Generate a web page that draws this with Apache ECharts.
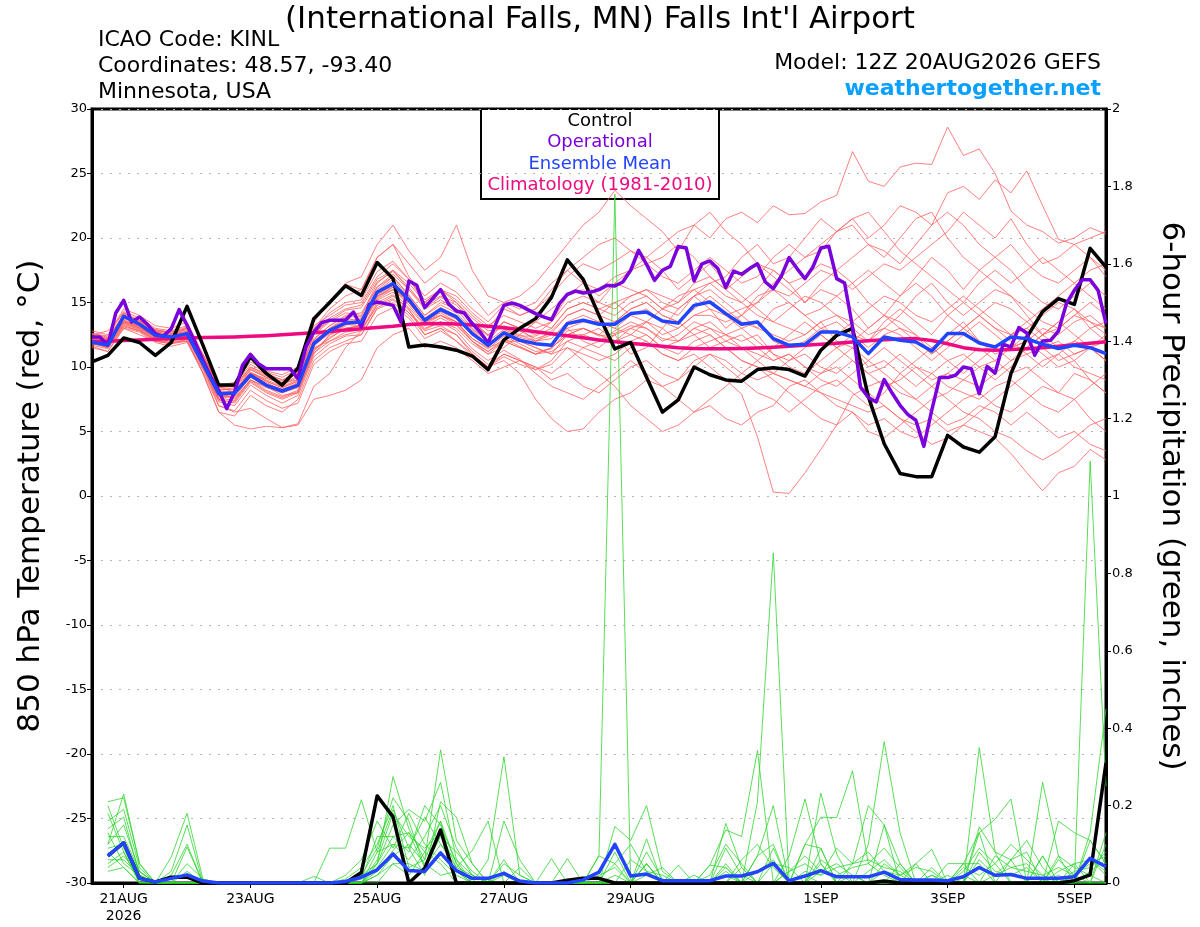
<!DOCTYPE html>
<html>
<head>
<meta charset="utf-8">
<title>KINL GEFS 850 hPa temperature and 6-hour precipitation</title>
<script src="https://cdn.jsdelivr.net/npm/echarts@6/dist/echarts.min.js"></script>
<style>
html, body { margin: 0; padding: 0; background: #ffffff; }
#main { width: 1200px; height: 927px; }
</style>
</head>
<body>
<div id="main"></div>
<script type="text/javascript">
// forecast hours from 12Z 20AUG2026; members are 6-hourly, the operational run 3-hourly
var tickHours = [12, 60, 108, 156, 204, 276, 324, 372];
var tickLabels = ['21AUG\n2026', '23AUG', '25AUG', '27AUG', '29AUG', '1SEP', '3SEP', '5SEP'];

// 850 hPa temperature, deg C
var tempControl = [10.4, 10.9, 12.25, 11.9, 10.9,  11.9, 14.7, 11.7, 8.6, 8.6,  10.8, 9.5, 8.6, 9.9, 13.75,  15.0, 16.3, 15.55, 18.1, 16.85,  11.55, 11.7, 11.55, 11.3, 10.85,  9.8, 12.1, 13.0, 13.75, 15.4,  18.3, 16.8, 14.0, 11.4, 11.9,  9.2, 6.5, 7.45, 10.0, 9.4,  9.0, 8.9, 9.8, 9.95, 9.8,  9.3, 11.3, 12.45, 13.0, 7.7,  4.05, 1.75, 1.5, 1.5, 4.7,  3.8, 3.4, 4.6, 9.5, 12.3,  14.3, 15.3, 14.85, 19.2, 17.75];

var tempOper = [12.33, 12.33, 11.68, 14.19, 15.17, 13.49, 13.88, 13.31, 12.59, 12.38,
  12.97, 14.45, 13.23, 11.94, 10.52, 9.22, 8.19, 6.77, 8.06, 10.13,
  10.98, 10.26, 9.87, 9.87, 9.87, 9.87, 9.1, 11.55, 12.71, 13.44,
  13.62, 13.62, 13.62, 14.26, 13.1, 14.86, 15.04, 14.91, 14.78, 13.49,
  16.67, 16.33, 14.6, 15.3, 16.0, 14.91, 14.34, 14.19, 13.36, 12.71,
  11.86, 13.36, 14.78, 14.96, 14.78, 14.45, 14.14, 13.88, 13.67, 14.91,
  15.63, 15.89, 15.74, 15.81, 16.0, 16.33, 16.28, 16.59, 17.5, 19.05,
  17.96, 16.72, 17.5, 17.8, 19.33, 19.25, 16.67, 18.0, 18.22, 17.63,
  16.16, 17.44, 17.19, 17.63, 18.0, 16.59, 16.08, 17.03, 18.48, 17.63,
  16.85, 17.75, 19.22, 19.36, 16.85, 16.51, 13.1, 8.45, 7.63, 7.29,
  9.02, 7.98, 7.03, 6.31, 5.87, 3.85, 6.64, 9.18, 9.18, 9.36,
  10.0, 9.87, 7.93, 10.05, 9.53, 11.76, 11.55, 13.05, 12.64, 10.91,
  12.02, 12.07, 12.79, 14.91, 15.94, 16.77, 16.77, 15.94, 13.36];

var tempMean = [11.94, 11.68, 13.93, 13.31, 12.46,  12.33, 12.59, 10.26, 7.93, 7.98,  9.36, 8.58, 8.14, 8.58, 11.81,  12.84, 13.41, 13.49, 15.8, 16.46,  15.22, 13.62, 14.47, 13.88, 12.59,  11.68, 12.64, 12.07, 11.81, 11.68,  13.36, 13.62, 13.31, 13.31, 14.14,  14.27, 13.57, 13.4, 14.78, 15.04,  14.14, 13.31, 13.49, 12.2, 11.68,  11.76, 12.71, 12.71, 12.33, 11.04,  12.33, 12.07, 11.94, 11.24, 12.59,  12.59, 11.86, 11.55, 12.33, 12.2,  11.76, 11.43, 11.68, 11.5, 11.04];

var tempClim = [11.95, 12.0, 12.05, 12.1, 12.15,  12.2, 12.25, 12.28, 12.3, 12.33,  12.38, 12.43, 12.5, 12.58, 12.66,  12.76, 12.86, 12.96, 13.06, 13.16,  13.3, 13.36, 13.38, 13.34, 13.26,  13.16, 13.04, 12.9, 12.74, 12.58,  12.42, 12.26, 12.1, 11.96, 11.84,  11.72, 11.6, 11.5, 11.44, 11.42,  11.42, 11.44, 11.48, 11.54, 11.6,  11.68, 11.76, 11.84, 11.94, 12.04,  12.12, 12.18, 12.2, 12.05, 11.8,  11.5, 11.33, 11.3, 11.35, 11.42,  11.5, 11.6, 11.72, 11.84, 11.95];

var tempMembers = [
  [12.5, 12.8, 14.2, 13.6, 12.8,  12.4, 13.0, 11.0, 8.5, 8.0,  9.8, 9.2, 8.9, 9.5, 13.5,  15.0, 16.4, 16.0, 18.5, 19.5,  17.0, 15.5, 16.5, 15.8, 14.5,  13.5, 14.8, 14.0, 14.5, 15.6,  17.0, 18.0, 17.5, 18.2, 19.0,  18.5, 19.5, 20.5, 21.0, 20.0,  21.5, 22.0, 21.2, 22.5, 21.8,  21.9, 22.8, 23.3, 26.7, 24.4,  24.0, 25.5, 25.8, 25.7, 28.6,  26.4, 26.9, 25.0, 22.1, 21.0,  20.5, 19.6, 20.0, 20.8, 20.3],
  [11.5, 11.2, 13.0, 12.5, 12.0,  11.8, 12.0, 9.5, 6.5, 6.2,  7.8, 7.0, 6.5, 7.5, 10.5,  11.5, 12.0, 12.5, 14.5, 15.0,  14.0, 12.5, 13.0, 12.0, 11.0,  10.0, 11.0, 10.5, 9.8, 10.5,  12.0, 11.5, 11.0, 10.5, 11.5,  12.0, 11.0, 10.5, 11.0, 10.0,  9.0, 7.9, 4.6, 0.3, 0.2,  1.8, 3.6, 5.5, 7.8, 8.5,  9.0, 8.0, 7.5, 8.5, 9.5,  9.0, 8.5, 9.5, 10.5, 11.0,  11.5, 12.0, 11.0, 11.5, 12.0],
  [12.2, 12.0, 13.6, 13.0, 12.2,  12.0, 12.4, 10.0, 7.5, 7.2,  8.8, 8.0, 7.5, 8.0, 11.0,  12.5, 13.0, 13.2, 15.5, 16.0,  15.0, 13.5, 14.0, 13.5, 12.0,  11.0, 12.0, 11.5, 11.0, 11.5,  12.5, 12.5, 12.0, 12.8, 13.5,  13.0, 12.0, 12.5, 13.5, 13.0,  12.0, 11.5, 10.5, 9.5, 9.0,  8.5, 8.0, 7.5, 7.0, 6.5,  7.0, 6.0, 5.5, 6.0, 5.0,  5.5, 5.0, 4.5, 3.3, 1.8,  0.4, 1.8, 2.3, 3.6, 2.8],
  [12.0, 11.5, 13.2, 12.8, 12.0,  11.8, 12.2, 10.5, 8.0, 7.5,  9.0, 8.5, 7.8, 8.0, 11.5,  12.0, 12.5, 12.8, 14.8, 15.5,  14.5, 12.5, 13.0, 12.5, 11.0,  10.0, 10.5, 9.5, 7.5, 6.0,  5.0, 5.2, 6.5, 7.5, 8.0,  9.0, 8.5, 7.5, 6.5, 7.0,  6.0, 5.5, 6.5, 7.0, 8.5,  9.0, 8.0, 7.0, 6.5, 5.5,  6.0, 5.0, 4.5, 5.5, 6.5,  7.5, 8.0, 7.0, 6.5, 7.5,  8.5, 8.0, 9.5, 9.0, 8.0],
  [12.8, 12.5, 14.5, 14.0, 13.2,  13.0, 13.5, 11.0, 8.5, 8.5,  10.0, 9.5, 9.0, 9.5, 13.0,  14.5, 15.5, 16.0, 18.5, 19.5,  18.0, 16.5, 17.5, 17.0, 15.5,  14.0, 15.0, 15.5, 16.5, 18.0,  19.5, 21.0, 22.0, 23.7, 22.5,  21.5, 20.5, 19.0, 21.0, 22.0,  20.5, 19.5, 18.0, 17.5, 16.5,  15.0, 16.0, 15.5, 14.5, 13.0,  14.0, 13.5, 12.5, 11.5, 12.5,  13.5, 12.0, 11.5, 10.5, 11.5,  12.5, 13.5, 14.5, 13.0, 12.0],
  [12.4, 12.2, 14.0, 13.5, 12.7,  12.5, 12.8, 10.8, 8.3, 8.2,  9.6, 9.0, 8.5, 9.0, 12.2,  13.2, 14.0, 14.2, 16.2, 17.2,  16.0, 14.5, 15.2, 14.5, 13.5,  12.5, 13.5, 13.0, 13.5, 14.5,  15.5, 16.5, 16.0, 17.0, 17.5,  18.0, 17.0, 16.5, 17.5, 18.5,  17.5, 16.5, 17.0, 18.5, 19.5,  18.5, 19.0, 20.5, 21.5, 20.0,  21.0, 22.5, 22.0, 21.0, 23.5,  24.0, 23.0, 24.5, 23.5, 25.2,  22.5, 19.9, 19.5, 20.0, 20.5],
  [12.0, 11.8, 14.2, 13.4, 12.6,  12.2, 12.5, 10.2, 7.5, 7.8,  9.5, 8.8, 8.2, 8.8, 12.0,  13.0, 13.8, 13.5, 16.0, 17.0,  15.5, 14.0, 15.0, 14.5, 13.0,  12.0, 13.5, 13.0, 12.5, 13.5,  15.5, 16.0, 15.0, 16.5, 17.5,  18.5, 17.5, 16.0, 17.0, 18.0,  16.5, 15.5, 14.5, 13.5, 13.0,  12.5, 13.5, 12.0, 11.5, 10.0,  10.5, 9.5, 8.5, 9.5, 10.5,  11.0, 10.0, 9.0, 10.0, 11.5,  12.5, 13.0, 14.0, 13.5, 12.5],
  [11.8, 11.6, 13.5, 13.2, 12.4,  12.5, 12.4, 10.0, 7.8, 7.6,  9.0, 8.4, 8.0, 8.4, 11.2,  12.5, 13.2, 13.8, 15.5, 16.2,  15.0, 13.5, 14.0, 13.5, 12.2,  11.5, 12.0, 12.0, 11.5, 11.0,  12.5, 13.0, 12.5, 12.0, 13.0,  13.5, 12.5, 13.0, 14.0, 14.5,  14.0, 13.0, 13.5, 12.0, 11.5,  12.0, 13.0, 13.5, 12.5, 11.5,  12.5, 13.0, 12.5, 11.0, 12.0,  13.0, 12.0, 11.0, 11.5, 12.5,  11.5, 10.5, 11.0, 11.5, 10.5],
  [12.3, 12.0, 13.8, 13.4, 12.8,  12.6, 12.9, 10.6, 8.2, 8.3,  9.8, 9.2, 8.6, 9.2, 12.5,  13.5, 14.2, 14.0, 16.5, 17.5,  16.0, 14.8, 15.5, 15.0, 13.8,  12.8, 13.0, 12.5, 12.0, 12.8,  14.0, 14.5, 14.0, 15.0, 15.5,  16.0, 15.0, 14.5, 15.5, 16.5,  17.0, 18.5, 19.5, 18.0, 18.5,  20.0, 21.5, 20.5, 21.0, 19.5,  18.5, 20.0, 21.5, 22.0, 20.0,  18.5, 17.5, 18.5, 19.5, 18.0,  17.0, 16.5, 17.5, 18.5, 17.0],
  [11.6, 11.2, 13.0, 12.7, 11.9,  11.6, 11.9, 9.6, 7.0, 6.6,  8.2, 7.4, 6.8, 7.2, 10.2,  11.2, 11.8, 12.0, 14.0, 14.6,  13.8, 12.2, 12.8, 12.0, 10.8,  10.0, 10.8, 10.2, 9.8, 10.2,  11.5, 11.0, 10.5, 11.0, 12.0,  12.5, 11.5, 11.0, 12.0, 12.5,  11.5, 10.5, 10.0, 9.5, 9.0,  8.5, 9.5, 10.0, 9.0, 8.0,  7.0, 6.0, 5.0, 4.0, 4.5,  5.5, 6.5, 7.5, 8.5, 9.5,  10.5, 11.0, 10.0, 9.5, 9.0],
  [12.6, 12.4, 14.3, 13.8, 13.0,  12.8, 13.2, 10.8, 8.4, 8.6,  10.2, 9.6, 9.2, 9.8, 13.5,  15.0, 16.5, 17.0, 19.5, 21.0,  19.0, 17.5, 18.5, 21.0, 17.5,  15.5, 15.0, 14.5, 15.0, 16.5,  17.5, 16.5, 15.5, 16.5, 16.0,  15.5, 14.5, 15.0, 16.5, 17.0,  16.0, 15.0, 14.0, 13.5, 14.5,  15.5, 15.0, 14.0, 13.5, 12.5,  13.0, 14.0, 15.5, 16.5, 15.0,  14.0, 15.0, 16.0, 15.5, 14.5,  13.5, 13.0, 14.0, 15.0, 14.0],
  [11.9, 11.5, 13.3, 12.9, 12.0,  11.9, 12.1, 9.5, 6.5, 5.5,  5.2, 5.4, 5.3, 5.5, 7.5,  7.8, 8.2, 9.0, 11.5, 12.5,  13.0, 11.5, 12.0, 11.5, 10.5,  9.5, 10.0, 10.5, 10.0, 9.5,  10.5, 11.5, 12.0, 12.5, 13.0,  12.5, 11.5, 12.0, 13.0, 13.5,  12.5, 12.0, 12.5, 11.0, 10.0,  9.5, 10.5, 11.5, 12.5, 12.0,  13.0, 12.5, 11.5, 10.5, 11.5,  12.5, 13.5, 12.5, 11.5, 12.0,  11.0, 10.0, 10.5, 11.5, 12.5],
  [12.1, 11.9, 13.7, 13.1, 12.3,  12.2, 12.3, 10.0, 7.0, 6.5,  6.8, 6.0, 5.3, 5.6, 8.5,  9.5, 11.5, 12.8, 14.8, 15.3,  14.2, 13.0, 13.5, 13.0, 11.8,  11.0, 11.5, 12.5, 13.5, 13.0,  14.5, 15.0, 14.5, 14.0, 15.0,  15.5, 14.5, 14.0, 15.5, 16.0,  15.0, 14.0, 13.0, 14.5, 15.0,  14.0, 13.0, 12.5, 13.5, 14.5,  15.5, 15.0, 14.0, 13.5, 14.5,  15.5, 14.5, 13.5, 12.5, 13.0,  12.0, 11.5, 12.0, 13.0, 13.5],
  [12.2, 11.9, 13.6, 13.2, 12.5,  12.3, 12.6, 10.4, 8.0, 8.1,  9.6, 8.9, 8.4, 8.9, 11.7,  12.6, 13.3, 13.2, 15.4, 16.2,  15.0, 13.4, 14.2, 13.5, 12.2,  11.4, 12.4, 11.8, 11.2, 11.4,  12.8, 13.0, 12.4, 12.6, 13.2,  13.0, 12.2, 12.0, 13.0, 12.5,  11.5, 10.5, 10.0, 9.0, 8.0,  7.0, 6.0, 5.5, 6.5, 5.0,  4.5, 5.5, 6.5, 7.5, 8.0,  9.0, 10.0, 10.5, 11.5, 12.0,  13.0, 12.5, 13.5, 14.0, 13.0],
  [12.5, 12.1, 14.0, 13.5, 12.9,  12.6, 13.0, 10.9, 8.6, 8.8,  10.4, 9.7, 9.4, 10.0, 13.2,  14.0, 14.8, 15.0, 17.0, 18.0,  16.8, 15.2, 16.0, 15.5, 14.2,  13.2, 14.0, 13.5, 13.0, 13.5,  15.0, 15.5, 15.0, 14.5, 15.5,  16.0, 15.5, 15.0, 16.0, 16.5,  15.5, 15.0, 16.0, 17.5, 16.5,  17.0, 18.0, 17.5, 18.5, 19.5,  19.0, 18.0, 19.5, 21.0, 22.0,  21.0, 19.5, 18.5, 17.5, 16.0,  15.0, 14.5, 15.5, 16.5, 15.5],
  [11.7, 11.4, 13.1, 12.8, 12.1,  11.9, 12.0, 9.8, 7.3, 7.0,  8.6, 7.8, 7.2, 7.8, 10.8,  11.8, 12.4, 12.5, 14.6, 15.2,  14.2, 12.8, 13.2, 12.5, 11.2,  10.2, 11.0, 10.5, 10.0, 9.0,  9.5, 8.5, 8.0, 9.0, 10.0,  10.5, 9.5, 9.0, 10.0, 11.0,  10.5, 9.5, 9.0, 9.5, 10.5,  11.0, 10.0, 9.5, 10.5, 9.5,  8.5, 9.0, 10.0, 9.5, 8.5,  8.0, 7.5, 8.5, 9.0, 8.0,  7.0, 6.5, 7.5, 6.0, 5.0],
  [12.3, 12.2, 14.1, 13.6, 12.9,  12.7, 13.1, 10.7, 8.1, 8.0,  9.5, 9.1, 8.8, 9.0, 12.5,  13.8, 14.5, 14.8, 16.8, 17.5,  16.5, 15.0, 16.0, 15.0, 13.5,  12.5, 13.5, 13.0, 12.0, 12.5,  13.0, 12.0, 11.5, 12.5, 11.0,  11.5, 13.0, 14.5, 15.5, 14.5,  13.0, 14.0, 15.5, 16.0, 15.0,  14.0, 14.5, 15.5, 16.5, 17.5,  16.5, 15.5, 17.0, 18.5, 17.5,  16.0, 17.5, 16.5, 15.5, 14.0,  12.5, 13.5, 12.5, 11.5, 10.5],
  [12.0, 11.7, 13.4, 13.0, 12.3,  12.1, 12.3, 10.2, 7.8, 7.7,  9.2, 8.5, 8.0, 8.5, 11.4,  12.2, 13.0, 13.2, 15.2, 15.8,  14.6, 13.2, 13.8, 13.2, 12.0,  11.2, 12.0, 11.5, 11.0, 11.2,  12.0, 12.5, 13.0, 12.0, 12.5,  13.5, 13.0, 12.0, 12.5, 13.0,  12.5, 11.5, 11.0, 10.5, 11.0,  10.0, 9.5, 10.5, 11.5, 10.5,  9.5, 8.5, 7.5, 6.5, 5.5,  6.0, 7.0, 6.5, 5.5, 6.5,  5.5, 4.5, 5.0, 4.0, 3.5],
  [12.4, 12.3, 13.9, 13.3, 12.6,  12.4, 12.7, 10.5, 8.2, 8.4,  9.9, 9.3, 8.7, 9.3, 12.6,  13.6, 14.4, 14.6, 16.6, 17.4,  16.2, 14.6, 15.4, 14.8, 13.4,  12.4, 13.2, 12.8, 12.2, 12.6,  14.0, 14.5, 14.0, 13.5, 14.5,  15.0, 14.0, 13.5, 14.5, 15.5,  14.5, 13.5, 13.0, 12.5, 12.0,  12.5, 13.5, 14.0, 13.0, 12.0,  13.5, 14.5, 13.5, 12.5, 14.0,  15.0, 16.5, 17.5, 16.5, 17.5,  18.5, 17.5, 16.5, 17.5, 18.0],
  [12.1, 11.8, 13.5, 13.1, 12.4,  12.3, 12.5, 10.1, 7.7, 7.9,  9.5, 8.7, 8.3, 8.7, 11.9,  13.0, 13.6, 13.7, 15.9, 16.8,  15.4, 13.8, 14.6, 14.0, 12.8,  11.8, 12.8, 12.3, 12.0, 12.2,  13.5, 14.0, 13.5, 13.0, 14.0,  14.5, 13.5, 13.0, 14.0, 14.0,  13.5, 14.0, 15.0, 16.5, 17.5,  18.5, 19.5, 20.5, 21.5, 22.0,  20.5, 19.0, 18.0, 17.0, 16.0,  15.0, 14.0, 13.0, 12.5, 13.0,  14.0, 15.0, 14.5, 13.5, 13.0],
  [12.0, 11.6, 13.4, 12.9, 12.2,  12.0, 12.2, 9.9, 7.4, 7.3,  8.9, 8.1, 7.6, 8.1, 11.1,  12.0, 12.7, 12.9, 15.0, 15.6,  14.4, 12.9, 13.5, 12.8, 11.4,  10.5, 11.3, 10.6, 9.5, 8.5,  8.0, 7.5, 8.5, 9.5, 10.5,  9.5, 8.5, 9.0, 10.5, 11.0,  10.0, 9.0, 8.0, 7.5, 6.5,  7.5, 8.5, 9.0, 8.0, 7.0,  8.0, 9.5, 10.5, 11.5, 10.5,  9.5, 10.5, 11.5, 12.5, 13.5,  12.5, 11.5, 10.5, 9.0, 8.0],
  [12.6, 12.3, 14.0, 13.6, 12.8,  12.7, 13.0, 10.9, 8.4, 8.5,  10.0, 9.4, 9.0, 9.6, 12.9,  14.2, 15.0, 15.2, 17.4, 18.2,  16.8, 15.0, 16.0, 15.2, 14.0,  13.0, 14.5, 14.0, 14.5, 16.0,  17.5, 18.5, 19.5, 20.0, 19.0,  18.0, 18.5, 19.5, 18.5, 17.0,  16.0, 17.0, 18.0, 17.0, 16.0,  15.0, 16.5, 17.5, 16.5, 15.0,  14.0, 15.5, 16.5, 15.5, 14.0,  13.0, 14.0, 15.0, 14.5, 13.5,  14.5, 15.5, 16.5, 15.5, 14.5],
  [12.1, 11.8, 13.8, 13.2, 12.4,  12.2, 12.5, 10.2, 7.9, 8.0,  9.4, 8.6, 8.1, 8.6, 11.8,  12.8, 13.4, 13.5, 15.8, 16.5,  15.2, 13.6, 14.5, 13.9, 12.6,  11.7, 12.6, 12.1, 11.8, 11.7,  13.0, 13.5, 13.5, 13.0, 12.5,  12.0, 11.0, 10.5, 11.5, 12.0,  12.5, 13.0, 12.0, 11.0, 10.5,  11.5, 12.5, 11.5, 10.5, 9.5,  10.0, 11.0, 10.0, 9.0, 9.5,  10.5, 11.5, 10.5, 9.5, 10.0,  9.0, 8.0, 7.5, 8.5, 9.5],
  [11.8, 11.5, 13.2, 12.8, 12.2,  12.1, 12.4, 10.1, 7.6, 7.4,  9.0, 8.2, 7.7, 8.2, 11.3,  12.3, 13.0, 13.2, 15.3, 16.0,  14.8, 13.3, 14.0, 13.3, 12.0,  11.2, 12.2, 11.6, 11.0, 11.5,  12.5, 13.0, 12.5, 13.5, 14.5,  15.0, 14.0, 13.5, 12.5, 11.5,  12.0, 12.5, 11.5, 10.5, 11.0,  10.0, 9.0, 8.5, 9.5, 10.5,  11.5, 10.5, 9.5, 8.5, 7.5,  6.5, 6.0, 5.0, 4.5, 3.5,  2.8, 3.5, 4.5, 5.5, 6.0],
  [12.3, 12.0, 13.9, 13.4, 12.6,  12.4, 12.8, 10.5, 8.0, 8.1,  9.5, 8.9, 8.4, 8.9, 12.1,  13.2, 13.9, 13.9, 16.2, 17.0,  15.6, 14.0, 14.8, 14.2, 12.9,  12.0, 12.9, 12.4, 12.4, 13.0,  14.5, 15.0, 14.5, 15.0, 14.0,  13.5, 14.5, 15.5, 16.0, 15.0,  14.0, 14.5, 15.0, 16.0, 15.5,  16.5, 17.5, 17.0, 16.0, 17.0,  18.0, 17.5, 18.5, 19.5, 20.5,  22.0, 21.0, 20.0, 21.5, 19.5,  18.0, 18.5, 19.5, 18.5, 17.5],
  [12.2, 11.9, 13.5, 13.0, 12.4,  12.2, 12.4, 10.3, 7.9, 7.9,  9.3, 8.6, 8.2, 8.6, 11.6,  12.7, 13.3, 13.4, 15.6, 16.3,  15.1, 13.5, 14.3, 13.7, 12.5,  11.6, 12.5, 12.0, 11.5, 11.0,  11.5, 10.5, 9.5, 8.5, 7.0,  6.0, 5.0, 5.5, 6.5, 7.5,  8.5, 9.5, 10.5, 11.5, 12.5,  13.5, 12.5, 11.5, 12.0, 13.0,  14.0, 13.0, 12.0, 11.0, 12.0,  13.0, 14.0, 13.0, 12.0, 11.0,  10.0, 11.0, 12.0, 11.5, 10.5]
];

// 6-hour precipitation, inches (no value at hour 0)
var precipControl = [null, 0.07, 0.104, 0.012, 0.003,  0.015, 0.015, 0, 0, 0,  0, 0, 0, 0, 0,  0, 0, 0.027, 0.225, 0.171,  0, 0.038, 0.137, 0, 0,  0, 0, 0, 0, 0,  0.007, 0.012, 0.012, 0, 0,  0, 0, 0, 0, 0,  0, 0, 0, 0, 0,  0, 0, 0, 0, 0,  0.005, 0, 0, 0, 0,  0, 0, 0, 0, 0,  0, 0, 0.006, 0.021, 0.31];

var precipMean = [null, 0.07, 0.104, 0.012, 0.003,  0.012, 0.021, 0.005, 0, 0,  0, 0, 0, 0, 0,  0, 0.004, 0.015, 0.034, 0.075,  0.032, 0.03, 0.078, 0.032, 0.012,  0.012, 0.025, 0.005, 0, 0,  0, 0.008, 0.028, 0.1, 0.018,  0.023, 0.006, 0.006, 0.006, 0.006,  0.018, 0.018, 0.029, 0.051, 0.006,  0.018, 0.032, 0.016, 0.016, 0.016,  0.028, 0.009, 0.008, 0.008, 0.006,  0.016, 0.04, 0.02, 0.022, 0.012,  0.012, 0.012, 0.016, 0.064, 0.042];

var precipMembers = [
  [null, 0.21, 0.22, 0.05, 0,  0, 0.03, 0, 0, 0,  0, 0, 0, 0, 0,  0, 0, 0, 0.05, 0.275,  0.14, 0.06, 0.344, 0.11, 0.05,  0, 0.02, 0, 0, 0,  0, 0, 0.072, 1.78, 0,  0.05, 0, 0, 0, 0,  0.04, 0, 0.07, 0.2, 0,  0.1, 0.09, 0, 0, 0,  0.15, 0.05, 0, 0, 0,  0, 0.35, 0.08, 0, 0,  0.07, 0, 0, 0.11, 0.05],
  [null, 0.16, 0.19, 0.04, 0,  0.067, 0.18, 0.01, 0, 0,  0, 0, 0, 0, 0,  0.09, 0.09, 0.215, 0.08, 0.19,  0.09, 0.02, 0.21, 0.17, 0.05,  0, 0, 0, 0, 0.063,  0, 0, 0, 0.146, 0.11,  0.2, 0.03, 0, 0, 0,  0.154, 0.04, 0, 0, 0.07,  0.217, 0.05, 0, 0, 0,  0, 0, 0.05, 0.087, 0,  0, 0.145, 0.08, 0.06, 0,  0.26, 0.07, 0, 0, 0],
  [null, 0.14, 0.17, 0.02, 0,  0.03, 0.15, 0, 0, 0,  0, 0, 0, 0, 0,  0, 0, 0.02, 0.05, 0.15,  0.19, 0.16, 0.26, 0.06, 0,  0.06, 0.326, 0.02, 0, 0,  0, 0, 0, 0.08, 0,  0.114, 0, 0.046, 0, 0.046,  0.137, 0.12, 0.342, 0, 0,  0, 0.232, 0.075, 0, 0.1,  0.365, 0.13, 0, 0, 0,  0.05, 0.13, 0.165, 0.217, 0,  0, 0.16, 0.13, 0.11, 0.05],
  [null, 0.12, 0.12, 0.03, 0,  0, 0.093, 0, 0, 0,  0, 0, 0, 0, 0,  0, 0, 0.01, 0.12, 0.12,  0.13, 0.08, 0.16, 0.05, 0,  0, 0.16, 0.06, 0, 0,  0, 0.01, 0.01, 0.05, 0,  0.05, 0, 0, 0.01, 0,  0, 0, 0.21, 0.853, 0,  0.1, 0.17, 0.169, 0.29, 0.05,  0.02, 0, 0, 0, 0.02,  0, 0, 0, 0.06, 0.08,  0, 0.07, 0.04, 0.02, 0],
  [null, 0.09, 0.1, 0.03, 0,  0, 0, 0, 0, 0,  0, 0, 0, 0, 0,  0, 0, 0, 0.08, 0.1,  0.09, 0.17, 0.1, 0.04, 0.084,  0.16, 0, 0, 0, 0,  0, 0, 0, 0, 0,  0, 0, 0, 0, 0.046,  0.04, 0, 0, 0.09, 0,  0, 0.09, 0, 0.05, 0.2,  0.15, 0, 0, 0, 0,  0, 0.13, 0, 0, 0,  0.07, 0, 0, 1.09, 0.25],
  [null, 0.05, 0.08, 0, 0,  0, 0, 0, 0, 0,  0, 0, 0, 0, 0,  0, 0.01, 0.04, 0.1, 0.2,  0.04, 0.06, 0.16, 0, 0,  0, 0.06, 0, 0, 0,  0, 0, 0, 0, 0,  0.05, 0, 0, 0, 0,  0, 0, 0.07, 0.1, 0,  0, 0, 0, 0, 0,  0, 0.05, 0, 0, 0,  0, 0, 0, 0, 0,  0, 0, 0, 0.13, 0.45],
  [null, 0.03, 0.04, 0, 0,  0, 0, 0, 0, 0,  0, 0, 0, 0, 0.017,  0, 0, 0, 0.03, 0.084,  0.13, 0.04, 0.1, 0.06, 0.02,  0, 0, 0, 0, 0,  0, 0, 0, 0, 0,  0, 0, 0, 0, 0,  0, 0.04, 0, 0, 0,  0, 0, 0, 0, 0,  0, 0, 0, 0.02, 0,  0, 0, 0, 0, 0,  0, 0, 0, 0, 0],
  [null, 0.06, 0.06, 0.02, 0,  0, 0, 0, 0, 0,  0, 0, 0, 0, 0,  0, 0, 0, 0.02, 0.05,  0.02, 0.08, 0.05, 0, 0,  0, 0, 0, 0, 0,  0.063, 0, 0, 0, 0,  0, 0, 0, 0, 0,  0, 0, 0, 0, 0,  0, 0, 0, 0, 0,  0, 0, 0, 0, 0,  0.05, 0.05, 0, 0, 0,  0, 0, 0, 0, 0.1],
  [null, 0.08, 0.04, 0, 0,  0, 0, 0, 0, 0,  0, 0, 0, 0, 0,  0, 0, 0, 0, 0.05,  0.05, 0.03, 0.08, 0.03, 0,  0, 0, 0, 0, 0,  0, 0, 0, 0, 0,  0, 0, 0, 0, 0,  0, 0, 0, 0, 0,  0, 0.06, 0.03, 0, 0,  0, 0, 0, 0, 0.05,  0.05, 0, 0, 0, 0,  0, 0, 0.05, 0, 0],
  [null, 0.1, 0.23, 0.05, 0,  0, 0, 0, 0, 0,  0, 0, 0, 0, 0,  0, 0, 0, 0.06, 0.18,  0.12, 0.09, 0.13, 0.04, 0.02,  0, 0, 0, 0, 0,  0, 0, 0.07, 0.05, 0.1,  0.03, 0.02, 0, 0, 0,  0.03, 0, 0, 0.05, 0.04,  0, 0.05, 0, 0.02, 0,  0.05, 0.02, 0.04, 0.03, 0,  0.02, 0, 0.07, 0.04, 0.05,  0, 0.06, 0.02, 0, 0.13],
  [null, 0.18, 0.08, 0, 0,  0, 0, 0, 0, 0,  0, 0, 0, 0, 0,  0, 0, 0, 0.04, 0.1,  0.06, 0.12, 0.2, 0.09, 0.02,  0, 0, 0, 0, 0,  0, 0, 0, 0, 0,  0.08, 0.01, 0, 0, 0.02,  0.1, 0.05, 0, 0, 0,  0.03, 0.02, 0.04, 0.05, 0.06,  0.04, 0.03, 0, 0, 0,  0, 0.08, 0.03, 0.02, 0.04,  0, 0.03, 0.05, 0.06, 0.02],
  [null, 0.04, 0.07, 0.02, 0,  0, 0, 0, 0, 0,  0, 0, 0, 0, 0,  0, 0, 0, 0.02, 0.07,  0.1, 0.05, 0.02, 0.03, 0,  0, 0, 0, 0, 0,  0, 0, 0, 0, 0,  0.02, 0.04, 0, 0, 0,  0.05, 0, 0, 0, 0.03,  0.05, 0.02, 0.09, 0.05, 0.08,  0.03, 0, 0, 0.02, 0,  0.04, 0.02, 0.05, 0.1, 0.06,  0.02, 0, 0.03, 0.04, 0.08],
  [null, 0.13, 0.05, 0.02, 0,  0.02, 0.1, 0, 0, 0,  0, 0, 0, 0, 0,  0, 0.02, 0.06, 0.16, 0.09,  0.18, 0.1, 0.06, 0.02, 0,  0, 0, 0.04, 0, 0,  0, 0, 0, 0, 0.06,  0.03, 0, 0, 0, 0,  0.09, 0.02, 0, 0, 0.03,  0.07, 0.03, 0.02, 0.04, 0.05,  0.09, 0.04, 0, 0, 0,  0, 0.06, 0.02, 0.04, 0.03,  0.02, 0.04, 0.02, 0.06, 0.03],
  [null, 0.1, 0.15, 0.03, 0,  0, 0.05, 0.01, 0, 0,  0, 0, 0, 0, 0,  0, 0, 0.02, 0.09, 0.22,  0.16, 0.04, 0.12, 0.08, 0.03,  0, 0.03, 0, 0, 0,  0, 0, 0.02, 0.04, 0,  0, 0, 0, 0, 0,  0.02, 0, 0.03, 0.06, 0,  0, 0.03, 0.05, 0.02, 0,  0.03, 0.02, 0.05, 0, 0,  0.03, 0.09, 0.05, 0, 0,  0, 0.02, 0, 0.03, 0.06],
  [null, 0.2, 0.09, 0, 0,  0, 0, 0, 0, 0,  0, 0, 0, 0, 0,  0, 0, 0, 0.05, 0.12,  0.08, 0.2, 0.15, 0.05, 0,  0, 0.05, 0.02, 0, 0,  0, 0, 0, 0.02, 0,  0, 0, 0, 0.02, 0,  0, 0.06, 0.1, 0.04, 0,  0.02, 0, 0, 0, 0.03,  0.06, 0.02, 0, 0.04, 0,  0, 0, 0.02, 0.06, 0.11,  0.04, 0, 0.02, 0.05, 0.07]
];

var FONT = 'DejaVu Sans';

function toPairs(values, stepHours) {
  var res = [];
  for (var i = 0; i < values.length; i++) {
    if (values[i] !== null) {
      res.push([i * stepHours, values[i]]);
    }
  }
  return res;
}

function thinLine(name, values, color, axisIndex) {
  return {
    name: name,
    type: 'line',
    yAxisIndex: axisIndex,
    showSymbol: false,
    silent: true,
    lineStyle: { color: color, width: 0.8 },
    data: toPairs(values, 6)
  };
}

function boldLine(name, values, step, color, width, axisIndex) {
  return {
    name: name,
    type: 'line',
    yAxisIndex: axisIndex,
    showSymbol: false,
    lineStyle: { color: color, width: width, join: 'round' },
    data: toPairs(values, step)
  };
}

var series = [];
for (var m = 0; m < tempMembers.length; m++) {
  series.push(thinLine('member ' + (m + 1), tempMembers[m], '#ff5f5f', 0));
}
for (var p = 0; p < precipMembers.length; p++) {
  series.push(thinLine('precip member ' + (p + 1), precipMembers[p], '#2fd62f', 1));
}
series.push(boldLine('Climatology (1981-2010)', tempClim, 6, '#ee0a80', 3.5, 0));
series.push(boldLine('Control', tempControl, 6, '#000000', 3.5, 0));
series.push(boldLine('Operational', tempOper, 3, '#7a00dc', 3.5, 0));
series.push(boldLine('Ensemble Mean', tempMean, 6, '#2244ff', 3.5, 0));
series.push(boldLine('Control precip', precipControl, 6, '#000000', 3.5, 1));
series.push(boldLine('Ensemble Mean precip', precipMean, 6, '#2244ff', 3.5, 1));

var myChart = echarts.init(document.getElementById('main'));

var option = {
  backgroundColor: '#ffffff',
  animation: false,
  textStyle: { fontFamily: FONT },
  grid: {
    left: 92, right: 94, top: 109, bottom: 44,
    show: true, borderColor: '#000', borderWidth: 3, backgroundColor: 'transparent'
  },
  xAxis: {
    type: 'value',
    min: 0,
    max: 384,
    axisLine: { show: true, onZero: false, lineStyle: { color: '#000', width: 3 } },
    axisTick: { show: true, length: 5, customValues: tickHours, lineStyle: { color: '#000', width: 1 } },
    axisLabel: {
      customValues: tickHours,
      color: '#000', fontSize: 14, fontFamily: FONT, margin: 8, lineHeight: 17,
      formatter: function (v) {
        var k = tickHours.indexOf(v);
        return k >= 0 ? tickLabels[k] : '';
      }
    },
    splitLine: { show: false }
  },
  yAxis: [{
    type: 'value',
    min: -30,
    max: 30,
    interval: 5,
    position: 'left',
    name: '850 hPa Temperature (red, \u00B0C)',
    nameLocation: 'middle',
    nameRotate: 90,
    nameGap: 46,
    nameTextStyle: { color: '#000', fontSize: 31, fontFamily: FONT },
    axisLine: { show: true, lineStyle: { color: '#000', width: 3 } },
    axisTick: { show: true, length: 5, lineStyle: { color: '#000' } },
    axisLabel: { color: '#000', fontSize: 13, fontFamily: FONT, margin: 5 },
    splitLine: { show: true, lineStyle: { color: '#b4b4b4', width: 1.2, type: [2, 7] } }
  }, {
    type: 'value',
    min: 0,
    max: 2,
    interval: 0.2,
    position: 'right',
    name: '6-hour Precipitation (green, inches)',
    nameLocation: 'middle',
    nameRotate: -90,
    nameGap: 50,
    nameTextStyle: { color: '#000', fontSize: 31, fontFamily: FONT },
    axisLine: { show: true, lineStyle: { color: '#000', width: 3 } },
    axisTick: { show: true, length: 5, lineStyle: { color: '#000' } },
    axisLabel: { color: '#000', fontSize: 13, fontFamily: FONT, margin: 6 },
    splitLine: { show: false }
  }],
  graphic: [
    { type: 'text', style: { text: "(International Falls, MN) Falls Int'l Airport", x: 600, y: 20, align: 'center', verticalAlign: 'middle', fontSize: 31, fontFamily: FONT, fill: '#000' } },
    { type: 'text', style: { text: 'ICAO Code: KINL', x: 98, y: 40, align: 'left', verticalAlign: 'middle', fontSize: 22, fontFamily: FONT, fill: '#000' } },
    { type: 'text', style: { text: 'Coordinates: 48.57, -93.40', x: 98, y: 66, align: 'left', verticalAlign: 'middle', fontSize: 22, fontFamily: FONT, fill: '#000' } },
    { type: 'text', style: { text: 'Minnesota, USA', x: 98, y: 92, align: 'left', verticalAlign: 'middle', fontSize: 22, fontFamily: FONT, fill: '#000' } },
    { type: 'text', style: { text: 'Model: 12Z 20AUG2026 GEFS', x: 1101, y: 63, align: 'right', verticalAlign: 'middle', fontSize: 22, fontFamily: FONT, fill: '#000' } },
    { type: 'text', style: { text: 'weathertogether.net', x: 1101, y: 89, align: 'right', verticalAlign: 'middle', fontSize: 22, fontWeight: 'bold', fontFamily: FONT, fill: '#0aa0ff' } },
    {
      type: 'group', x: 481, y: 109, z: 100,
      children: [
        { type: 'rect', shape: { x: 0, y: 0, width: 238, height: 90 }, style: { fill: '#fff', stroke: '#000', lineWidth: 2 } },
        { type: 'text', style: { text: 'Control', x: 119, y: 12, align: 'center', verticalAlign: 'middle', fontSize: 18, fontFamily: FONT, fill: '#000' } },
        { type: 'text', style: { text: 'Operational', x: 119, y: 33, align: 'center', verticalAlign: 'middle', fontSize: 18, fontFamily: FONT, fill: '#7a00dc' } },
        { type: 'text', style: { text: 'Ensemble Mean', x: 119, y: 55, align: 'center', verticalAlign: 'middle', fontSize: 18, fontFamily: FONT, fill: '#2244ff' } },
        { type: 'text', style: { text: 'Climatology (1981-2010)', x: 119, y: 76, align: 'center', verticalAlign: 'middle', fontSize: 18, fontFamily: FONT, fill: '#ee0a80' } }
      ]
    }
  ],
  series: series
};

myChart.setOption(option);
</script>
</body>
</html>
